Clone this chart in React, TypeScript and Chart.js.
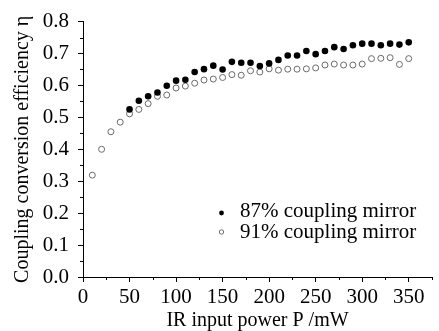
import React, { useEffect, useRef } from "react";
import { Chart, registerables } from "chart.js";

Chart.register(...registerables);

const power87 = [50, 60, 70, 80, 90, 100, 110, 120, 130, 140, 150, 160, 170, 180, 190, 200, 210, 220, 230, 240, 250, 260, 270, 280, 290, 300, 310, 320, 330, 340, 350];
const eff87 = [0.525, 0.552, 0.566, 0.578, 0.599, 0.615, 0.618, 0.642, 0.651, 0.662, 0.650, 0.674, 0.671, 0.671, 0.661, 0.669, 0.680, 0.694, 0.694, 0.708, 0.698, 0.708, 0.720, 0.714, 0.726, 0.731, 0.731, 0.726, 0.731, 0.728, 0.735];

const power91 = [10, 20, 30, 40, 50, 60, 70, 80, 90, 100, 110, 120, 130, 140, 150, 160, 170, 180, 190, 200, 210, 220, 230, 240, 250, 260, 270, 280, 290, 300, 310, 320, 330, 340, 350];
const eff91 = [0.319, 0.400, 0.455, 0.485, 0.511, 0.525, 0.543, 0.566, 0.570, 0.592, 0.598, 0.607, 0.617, 0.620, 0.625, 0.634, 0.632, 0.646, 0.642, 0.652, 0.648, 0.651, 0.651, 0.652, 0.655, 0.664, 0.667, 0.664, 0.664, 0.667, 0.684, 0.685, 0.687, 0.666, 0.684];

const xMajorTicks = [0, 50, 100, 150, 200, 250, 300, 350];
const xMinorTicks = [25, 75, 125, 175, 225, 275, 325, 375];
const yMajorTicks = [0, 0.1, 0.2, 0.3, 0.4, 0.5, 0.6, 0.7, 0.8];
const yMinorTicks = [0.05, 0.15, 0.25, 0.35, 0.45, 0.55, 0.65, 0.75];

const legendLabels = ["87% coupling mirror", "91% coupling mirror"];
const xTitle = "IR input power P /mW";
const yTitle = "Coupling conversion efficiency \u03B7";

const SERIF = "'Liberation Serif', 'DejaVu Serif', serif";
const OPEN_COLOR = "#6a6a6a";

const extrasPlugin = {
  id: "extras",
  afterDraw(chart: any) {
    const ctx = chart.ctx;
    const xs = chart.scales.x;
    const ys = chart.scales.y;
    ctx.save();
    ctx.strokeStyle = "#000";
    ctx.lineWidth = 1;
    ctx.beginPath();
    xMinorTicks.forEach((v) => {
      const px = Math.round(xs.getPixelForValue(v)) + 0.5;
      ctx.moveTo(px, ys.bottom);
      ctx.lineTo(px, ys.bottom + 3);
    });
    yMinorTicks.forEach((v) => {
      const py = Math.round(ys.getPixelForValue(v)) + 0.5;
      ctx.moveTo(xs.left, py);
      ctx.lineTo(xs.left - 3, py);
    });
    ctx.stroke();

    // legend
    const lx = 240;
    const ly = [211, 232.5];
    ctx.font = "21px " + SERIF;
    ctx.fillStyle = "#000";
    ctx.textBaseline = "middle";
    ctx.textAlign = "left";
    ctx.fillText(legendLabels[0], lx, ly[0]);
    ctx.fillText(legendLabels[1], lx, ly[1]);
    ctx.beginPath();
    ctx.arc(221.5, 213, 2.4, 0, Math.PI * 2);
    ctx.fill();
    ctx.beginPath();
    ctx.strokeStyle = OPEN_COLOR;
    ctx.arc(221.5, 232, 2.2, 0, Math.PI * 2);
    ctx.stroke();
    ctx.restore();
  },
};

export default function App() {
  const ref = useRef<HTMLCanvasElement | null>(null);
  useEffect(() => {
    if (!ref.current) return;
    const chart = new Chart(ref.current, {
      type: "scatter",
      data: {
        datasets: [
          {
            label: legendLabels[0],
            data: power87.map((p, i) => ({ x: p, y: eff87[i] })),
            pointStyle: "circle",
            pointRadius: 3.3,
            pointBackgroundColor: "#000",
            pointBorderColor: "#000",
            pointBorderWidth: 0,
          },
          {
            label: legendLabels[1],
            data: power91.map((p, i) => ({ x: p, y: eff91[i] })),
            pointStyle: "circle",
            pointRadius: 3,
            pointBackgroundColor: "rgba(255,255,255,0)",
            pointBorderColor: OPEN_COLOR,
            pointBorderWidth: 1,
          },
        ],
      },
      options: {
        responsive: false,
        animation: false,
        layout: { padding: { top: 16, right: 7, left: 0, bottom: 0 } },
        plugins: { legend: { display: false }, tooltip: { enabled: false } },
        scales: {
          x: {
            type: "linear",
            min: 0,
            max: 375,
            afterBuildTicks: (s: any) => {
              s.ticks = xMajorTicks.map((v) => ({ value: v }));
            },
            afterFit: (s: any) => {
              s.height = 54;
            },
            grid: { drawOnChartArea: false, drawTicks: true, tickLength: 5, tickColor: "#000" },
            border: { display: true, color: "#000", width: 1 },
            ticks: {
              color: "#000",
              padding: 3,
              maxRotation: 0,
              font: { family: SERIF, size: 21 },
              callback: (v: any) => String(v),
            },
            title: {
              display: true,
              text: xTitle,
              color: "#000",
              font: { family: SERIF, size: 20, lineHeight: 1 },
              padding: { top: 0, bottom: 0 },
            },
          },
          y: {
            type: "linear",
            min: 0,
            max: 0.8,
            afterBuildTicks: (s: any) => {
              s.ticks = yMajorTicks.map((v) => ({ value: v }));
            },
            afterFit: (s: any) => {
              s.width = 83;
            },
            grid: { drawOnChartArea: false, drawTicks: true, tickLength: 5, tickColor: "#000" },
            border: { display: true, color: "#000", width: 1 },
            ticks: {
              color: "#000",
              padding: 9,
              font: { family: SERIF, size: 21 },
              callback: (v: any) => Number(v).toFixed(1),
            },
            title: {
              display: true,
              text: yTitle,
              color: "#000",
              font: { family: SERIF, size: 20, lineHeight: 1 },
              padding: { top: 13, bottom: 0 },
            },
          },
        },
      },
      plugins: [extrasPlugin],
    });
    return () => chart.destroy();
  }, []);
  return (
    <div style={{ position: "fixed", left: 0, top: 0, width: 439, height: 331, background: "#fff" }}>
      <canvas ref={ref} width={439} height={331} style={{ display: "block" }} />
    </div>
  );
}
